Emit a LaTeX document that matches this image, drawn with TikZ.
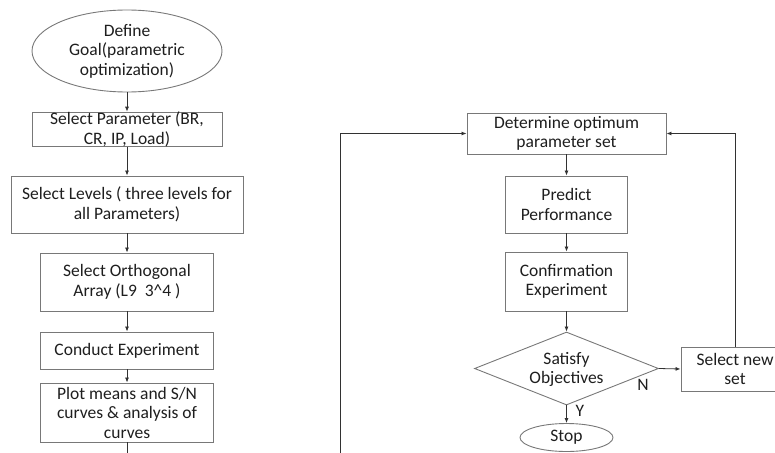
\documentclass[tikz,border=0pt]{standalone}
\usepackage{fontspec}
\setmainfont{Carlito}
\usetikzlibrary{shapes.geometric,arrows.meta}
\definecolor{boxline}{RGB}{120,120,120}
\definecolor{conline}{RGB}{50,50,50}
\definecolor{txt}{RGB}{30,30,30}
\begin{document}
\begin{tikzpicture}[x=1pt,y=-1pt,
  every node/.style={font=\fontsize{17.5}{19.5}\selectfont,text=txt,align=center,inner sep=0pt},
  boxnode/.style={draw=boxline,line width=0.9pt,rectangle},
  ovalnode/.style={draw=boxline,line width=0.9pt,ellipse},
  decnode/.style={draw=boxline,line width=0.9pt,diamond},
  conn/.style={draw=conline,line width=0.8pt,-{Latex[length=5pt,width=4pt]}},
  plain/.style={draw=conline,line width=0.8pt}]
\useasboundingbox (0,0) rectangle (775,452);
\clip (0,0) rectangle (775,452);
% left column
\node[ovalnode,minimum width=190,minimum height=82] (goal) at (127,51) {Define\\Goal(parametric\\optimization)};
\node[boxnode,minimum width=190,minimum height=33] (p1) at (127,129.5) {Select Parameter (BR,\\CR, IP, Load)};
\node[boxnode,minimum width=232,minimum height=57] (p2) at (127,204.5) {Select Levels ( three levels for\\all Parameters)};
\node[boxnode,minimum width=173,minimum height=58] (p3) at (127,282) {Select Orthogonal\\Array (L9~~3\^{}4 )};
\node[boxnode,minimum width=173,minimum height=37] (p4) at (127,350.5) {Conduct Experiment};
\node[boxnode,minimum width=173,minimum height=59] (p5) at (127,412.5) {Plot means and S/N\\curves \& analysis of\\curves};
\coordinate (p5end) at (127,470);
% right column
\node[boxnode,minimum width=199,minimum height=41] (det) at (566.5,133.5) {Determine optimum\\parameter set};
\node[boxnode,minimum width=122,minimum height=57] (pred) at (566.5,204.5) {Predict\\Performance};
\node[boxnode,minimum width=122,minimum height=59] (conf) at (566.5,281.5) {Confirmation\\Experiment};
\node[decnode,minimum width=184,minimum height=73] (dia) at (566.5,368.5) {};
\node (diatext) at (566.5,369.5) {Satisfy\\Objectives};
\node[ovalnode,minimum width=93,minimum height=28] (stop) at (566.5,437.5) {Stop};
\node[boxnode,minimum width=108,minimum height=44] (new) at (735,369) {Select new\\set};
\coordinate (loopbot) at (340,470);
% connectors
\draw[conn] (goal) -- (p1);
\draw[conn] (p1) -- (p2);
\draw[conn] (p2) -- (p3);
\draw[conn] (p3) -- (p4);
\draw[conn] (p4) -- (p5);
\draw[plain] (p5) -- (p5end);
\draw[conn] (det) -- (pred);
\draw[conn] (pred) -- (conf);
\draw[conn] (conf) -- (dia);
\draw[conn] (dia) -- (stop);
\node (ylab) at (580,411) {Y};
\draw[conn] (dia.east) -- (new.west);
\node (nlab) at (643,385) {N};
\draw[conn] (new.north) |- (det.east);
\draw[conn] (loopbot) |- (det.west);
\end{tikzpicture}
\end{document}
